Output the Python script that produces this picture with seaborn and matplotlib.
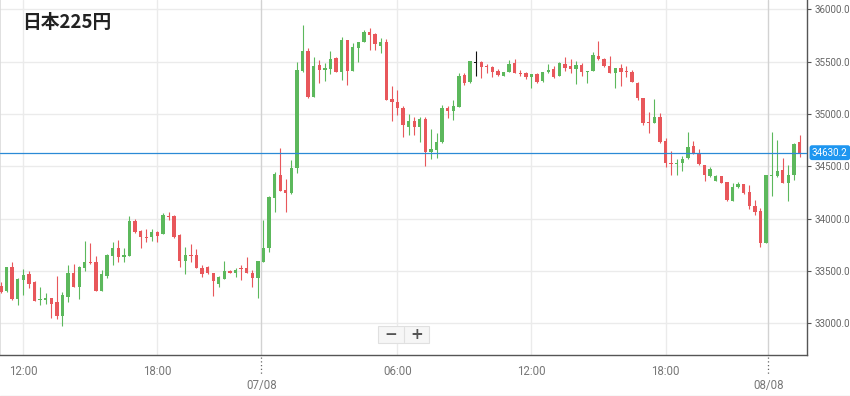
import matplotlib
matplotlib.use("Agg")
import numpy as np
import pandas as pd
import matplotlib.pyplot as plt
import matplotlib.transforms as mtransforms
from matplotlib.patches import Rectangle
from matplotlib.lines import Line2D
import seaborn as sns

# --- données (cours en chandeliers) ---
TITLE = "日本225円"

opens = [33360, 33310, 33540, 33230, 33415, 33470, 33390, 33220, 33220, 33240,
         33205, 33065, 33255, 33480, 33350, 33530, 33585, 33583, 33312, 33452,
         33646, 33717, 33637, 33646, 33978, 33882, 33828, 33822, 33873, 33851,
         34022, 34025, 33844, 33598, 33653, 33653, 33526, 33541, 33478, 33376,
         33421, 33498, 33484, 33531, 33531, 33478, 33436, 33589, 33722, 34200,
         34417, 34274, 34242, 34487, 35411, 35605, 35165, 35468, 35420, 35430,
         35532, 35404, 35707, 35411, 35628, 35685, 35786, 35764, 35652, 35691,
         35143, 35112, 35057, 34879, 34933, 34873, 34952, 34634, 34656, 34729,
         35060, 35029, 35070, 35372, 35303, 35490, 35500, 35461, 35452, 35414,
         35366, 35404, 35484, 35394, 35394, 35350, 35379, 35318, 35398, 35430,
         35366, 35478, 35458, 35430, 35468, 35404, 35411, 35557, 35525, 35461,
         35389, 35442, 35411, 35404, 35293, 35150, 34921, 34911, 34974, 34742,
         34529, 34519, 34529, 34577, 34694, 34630, 34513, 34410, 34363, 34407,
         34347, 34171, 34300, 34328, 34257, 34121, 34076, 33770, 34407, 34407,
         34465, 34344, 34417, 34735]

highs = [33395, 33540, 33585, 33435, 33520, 33500, 33405, 33350, 33285, 33245,
         33455, 33295, 33555, 33564, 33550, 33785, 33770, 33645, 33505, 33662,
         33780, 33796, 33717, 34025, 33997, 33892, 33898, 33898, 33885, 34051,
         34066, 34030, 33849, 33732, 33758, 33710, 33557, 33548, 33481, 33452,
         33595, 33509, 33526, 33557, 33631, 33509, 33595, 33987, 34216, 34449,
         34678, 34376, 34560, 35500, 35850, 35628, 35542, 35516, 35484, 35602,
         35547, 35733, 35710, 35675, 35688, 35802, 35819, 35769, 35723, 35716,
         35270, 35229, 35076, 35000, 34974, 34974, 34974, 34854, 34821, 35086,
         35079, 35134, 35389, 35389, 35508, 35602, 35502, 35475, 35458, 35427,
         35404, 35516, 35522, 35420, 35404, 35382, 35389, 35404, 35478, 35461,
         35494, 35542, 35522, 35506, 35484, 35413, 35595, 35697, 35538, 35554,
         35442, 35475, 35461, 35420, 35301, 35153, 35022, 35140, 35007, 34768,
         34643, 34567, 34599, 34831, 34742, 34663, 34516, 34496, 34417, 34412,
         34350, 34338, 34353, 34331, 34322, 34178, 34099, 34420, 34831, 34751,
         34577, 34513, 34718, 34799]

lows = [33290, 33295, 33225, 33170, 33270, 33340, 33210, 33170, 33180, 33050,
        33040, 32970, 33205, 33345, 33230, 33500, 33570, 33310, 33310, 33430,
        33557, 33589, 33589, 33643, 33863, 33722, 33774, 33789, 33780, 33849,
        33987, 33812, 33541, 33471, 33589, 33524, 33445, 33471, 33264, 33350,
        33419, 33478, 33445, 33414, 33476, 33344, 33239, 33586, 33679, 34061,
        34264, 34061, 34240, 34433, 35398, 35156, 35162, 35293, 35315, 35379,
        35401, 35325, 35277, 35406, 35500, 35683, 35611, 35611, 35580, 35130,
        34936, 34990, 34783, 34799, 34799, 34735, 34503, 34567, 34577, 34727,
        34959, 34942, 35067, 35277, 35300, 35363, 35347, 35394, 35356, 35363,
        35363, 35401, 35387, 35363, 35334, 35245, 35299, 35308, 35396, 35348,
        35363, 35411, 35389, 35284, 35366, 35293, 35406, 35520, 35452, 35387,
        35251, 35270, 35356, 35301, 35134, 34895, 34821, 34909, 34720, 34496,
        34417, 34417, 34458, 34567, 34618, 34513, 34363, 34401, 34360, 34338,
        34171, 34168, 34296, 34236, 34089, 34035, 33726, 33767, 34216, 34402,
        34340, 34171, 34369, 34586]

closes = [33300, 33535, 33230, 33425, 33460, 33380, 33215, 33230, 33245, 33185,
          33065, 33270, 33480, 33350, 33540, 33585, 33573, 33312, 33470, 33653,
          33717, 33637, 33653, 33978, 33868, 33828, 33818, 33870, 33837, 34035,
          34013, 33828, 33598, 33653, 33643, 33526, 33471, 33478, 33407, 33440,
          33498, 33484, 33509, 33522, 33478, 33436, 33595, 33722, 34210, 34427,
          34267, 34242, 34481, 35420, 35605, 35165, 35458, 35420, 35436, 35525,
          35404, 35707, 35411, 35643, 35685, 35786, 35755, 35666, 35691, 35134,
          35112, 35054, 34895, 34933, 34873, 34952, 34640, 34665, 34729, 35054,
          35029, 35076, 35363, 35293, 35506, 35490, 35452, 35452, 35404, 35372,
          35398, 35475, 35389, 35382, 35350, 35379, 35308, 35398, 35420, 35350,
          35484, 35442, 35430, 35468, 35398, 35411, 35564, 35522, 35461, 35389,
          35436, 35404, 35404, 35303, 35150, 34911, 34911, 34974, 34735, 34529,
          34519, 34535, 34567, 34682, 34624, 34519, 34417, 34472, 34407, 34344,
          34178, 34300, 34328, 34248, 34124, 34066, 33770, 34417, 34417, 34455,
          34344, 34417, 34713, 34630.2]

last_price = 34630.2

time_labels = ["12:00", "18:00", "06:00", "12:00", "18:00"]
time_pos = [4, 28, 71, 95, 119]
date_labels = ["07/08", "08/08"]
date_pos = [46.65, 137.4]
y_ticks = [33000, 33500, 34000, 34500, 35000, 35500, 36000]

GREEN = "#5cb85c"
RED = "#e8575b"
DOJI = "#111111"
BLUE = "#2b8ad6"

sns.set_theme(style="white")
plt.rcParams["font.family"] = ["Roboto", "DejaVu Sans"]

df = pd.DataFrame({"open": opens, "high": highs, "low": lows, "close": closes})
df["x"] = np.arange(len(df))
df["color"] = np.where(df["close"] > df["open"], GREEN,
                       np.where(df["close"] < df["open"], RED, DOJI))
df["bottom"] = df[["open", "close"]].min(axis=1)
df["height"] = (df["close"] - df["open"]).abs().clip(lower=10)

fig = plt.figure(figsize=(8.5, 3.96), dpi=100)
fig.patch.set_facecolor("white")
ax = fig.add_axes([0, 41 / 396, 807 / 850, 355 / 396])
ax.set_facecolor("white")

# grille
for v in y_ticks:
    ax.axhline(v, color="#ebebeb", lw=1, zorder=0)
for p in time_pos:
    ax.axvline(p, color="#ebebeb", lw=1, zorder=0)
for p in date_pos:
    ax.axvline(p, color="#d2d2d2", lw=1, zorder=0)

# chandeliers
ax.vlines(df["x"], df["low"], df["high"], colors=df["color"], lw=0.8, zorder=2)
ax.bar(df["x"], df["height"], bottom=df["bottom"], width=0.6,
       color=df["color"], linewidth=0, zorder=3)

# dernier cours
ax.axhline(last_price, color=BLUE, lw=0.9, zorder=4)
trans = mtransforms.blended_transform_factory(ax.transAxes, ax.transData)
ax.text(1.0 + 5 / 807, last_price, f"{last_price:.1f}", transform=trans,
        ha="left", va="center", fontsize=7.0, color="white", clip_on=False,
        bbox=dict(boxstyle="round,pad=0.25", fc="#1e96f0", ec="none"), zorder=6)

ax.set_xlim(-0.179, 144.34)
ax.set_ylim(32697, 36089)

# axes
ax.yaxis.tick_right()
ax.set_yticks(y_ticks)
ax.set_yticklabels([f"{v:.1f}" for v in y_ticks])
ax.tick_params(axis="y", which="major", direction="out", length=3, width=0.8,
               color="#555555", labelsize=7.1, labelcolor="#666666", pad=2.5)

ax.set_xticks(time_pos)
ax.set_xticklabels(time_labels)
ax.set_xticks(date_pos, minor=True)
ax.set_xticklabels(date_labels, minor=True)
ax.tick_params(axis="x", which="major", direction="out", length=3, width=0.8,
               color="#555555", labelsize=8.3, labelcolor="#777777", pad=4)
ax.tick_params(axis="x", which="minor", length=0, labelsize=8.3,
               labelcolor="#777777", pad=17)

xt = ax.get_xaxis_transform()
for p in date_pos:
    ax.plot([p, p], [-2 / 355, -19 / 355], transform=xt, color="#666666",
            lw=0.9, ls=(0, (1, 2)), clip_on=False)

ax.spines["top"].set_visible(False)
ax.spines["left"].set_color("#dcdcdc")
ax.spines["right"].set_color("#555555")
ax.spines["bottom"].set_color("#555555")
ax.spines["right"].set_linewidth(1)
ax.spines["bottom"].set_linewidth(1)

# titre
fig.text(22.5 / 850, 1 - 22.5 / 396, TITLE,
         family=["Noto Sans CJK JP", "DejaVu Sans"], weight="bold",
         fontsize=13.5, color="#222222", ha="left", va="center")

# boutons de zoom
fig.add_artist(Rectangle((378 / 850, 1 - 343.3 / 396), 51 / 850, 17.6 / 396,
                         transform=fig.transFigure, fc="#f6f6f6", ec="#e0e0e0",
                         lw=0.8, zorder=5))
fig.add_artist(Line2D([403.7 / 850] * 2, [1 - 342 / 396, 1 - 327 / 396],
                      transform=fig.transFigure, color="#e0e0e0", lw=0.8, zorder=6))
fig.text(390.5 / 850, 1 - 334.5 / 396, "−", ha="center", va="center",
         fontsize=11, weight="bold", color="#555555", zorder=7,
         family=["DejaVu Sans"])
fig.text(416.7 / 850, 1 - 334.5 / 396, "+", ha="center", va="center",
         fontsize=11, weight="bold", color="#555555", zorder=7,
         family=["DejaVu Sans"])

# bordure basse
fig.add_artist(Line2D([0, 1], [0.5 / 396] * 2, transform=fig.transFigure,
                      color="#dddddd", lw=1))

fig.savefig("out.png", dpi=100, facecolor="white")
